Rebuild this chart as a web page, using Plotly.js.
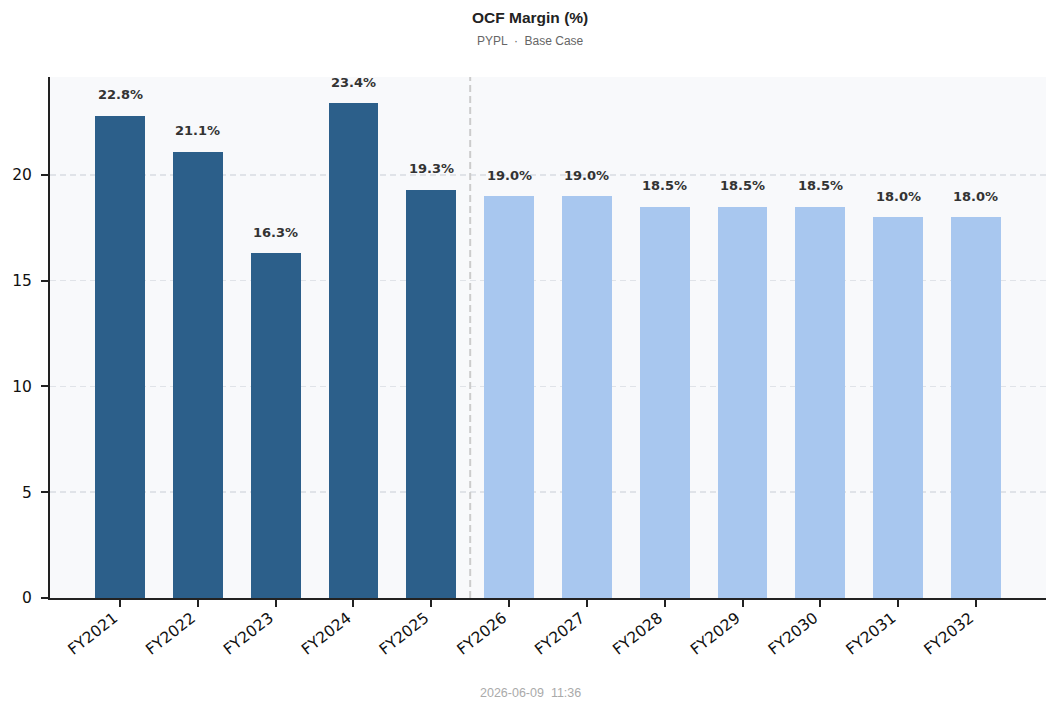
<!DOCTYPE html>
<html>
<head>
<meta charset="utf-8">
<script src="https://cdn.plot.ly/plotly-3.0.1.min.js"></script>
<style>
  html, body { margin: 0; padding: 0; background: #ffffff; }
  #chart { width: 1060px; height: 707px; }
</style>
</head>
<body>
<div id="chart"></div>
<script>
const years = ['FY2021', 'FY2022', 'FY2023', 'FY2024', 'FY2025', 'FY2026',
    'FY2027', 'FY2028', 'FY2029', 'FY2030', 'FY2031', 'FY2032'];
const margins = [22.8, 21.1, 16.3, 23.4, 19.3, 19.0, 19.0, 18.5, 18.5, 18.5, 18.0, 18.0];
const isForecast = [false, false, false, false, false, true, true, true, true, true, true, true];
const yTicks = [0, 5, 10, 15, 20];

const actualColor = '#2c5f8a';
const forecastColor = '#a8c7ef';

const xIdx = years.map((_, i) => i);

const trace = {
    type: 'bar',
    x: xIdx,
    y: margins,
    width: 0.64,
    marker: {
        color: isForecast.map(f => f ? forecastColor : actualColor),
        line: {width: 0},
    },
    hoverinfo: 'skip',
};

const labels = margins.map((v, i) => ({
    x: i,
    y: v,
    xref: 'x',
    yref: 'y',
    text: v.toFixed(1) + '%',
    showarrow: false,
    yshift: 21,
    font: {family: 'DejaVu Sans', size: 13, color: '#333333', weight: 'bold'},
}));

const splitAt = isForecast.indexOf(true) - 0.5;

const layout = {
    width: 1060,
    height: 707,
    margin: {l: 50, r: 14, t: 77, b: 109},
    paper_bgcolor: '#ffffff',
    plot_bgcolor: '#f8f9fb',
    showlegend: false,
    bargap: 0,
    font: {family: 'DejaVu Sans', size: 15, color: '#111111'},
    xaxis: {
        range: [-0.9, 11.9],
        tickvals: xIdx,
        ticktext: years,
        tickangle: -38,
        ticklabelshift: -6,
        ticklabelstandoff: -4,
        ticks: 'outside',
        ticklen: 7,
        tickwidth: 2,
        tickcolor: '#222222',
        showline: true,
        linecolor: '#222222',
        linewidth: 2,
        showgrid: false,
        zeroline: false,
        tickfont: {family: 'DejaVu Sans', size: 15.5, color: '#111111'},
    },
    yaxis: {
        range: [0, 24.63],
        tickvals: yTicks,
        ticks: 'outside',
        ticklen: 7,
        tickwidth: 2,
        tickcolor: '#222222',
        ticklabelstandoff: 6,
        showline: true,
        linecolor: '#222222',
        linewidth: 2,
        showgrid: true,
        gridcolor: '#e0e3e8',
        griddash: '6px,4px',
        gridwidth: 1.5,
        zeroline: false,
        tickfont: {family: 'DejaVu Sans', size: 15.5, color: '#111111'},
    },
    shapes: [{
        type: 'line',
        xref: 'x',
        yref: 'paper',
        x0: splitAt,
        x1: splitAt,
        y0: 0,
        y1: 1,
        line: {color: '#cccccc', width: 2, dash: '7px,4px'},
        layer: 'above',
    }],
    annotations: labels.concat([
        {
            text: '<b>OCF Margin (%)</b>',
            xref: 'paper', yref: 'paper',
            x: 0.5, y: 1,
            xanchor: 'center', yanchor: 'middle',
            yshift: 60,
            xshift: -18,
            showarrow: false,
            font: {family: 'Liberation Sans', size: 15.5, color: '#222222'},
        },
        {
            text: 'PYPL  ·  Base Case',
            xref: 'paper', yref: 'paper',
            x: 0.5, y: 1,
            xanchor: 'center', yanchor: 'middle',
            yshift: 36,
            xshift: -18,
            showarrow: false,
            font: {family: 'Liberation Sans', size: 12, color: '#666666'},
        },
        {
            text: '2026-06-09  11:36',
            xref: 'paper', yref: 'paper',
            x: 0.5, y: 0,
            xanchor: 'center', yanchor: 'middle',
            yshift: -95,
            xshift: -18,
            showarrow: false,
            font: {family: 'Liberation Sans', size: 12.5, color: '#aaaaaa'},
        },
    ]),
};

Plotly.newPlot('chart', [trace], layout, {displayModeBar: false, staticPlot: true});
</script>
</body>
</html>
